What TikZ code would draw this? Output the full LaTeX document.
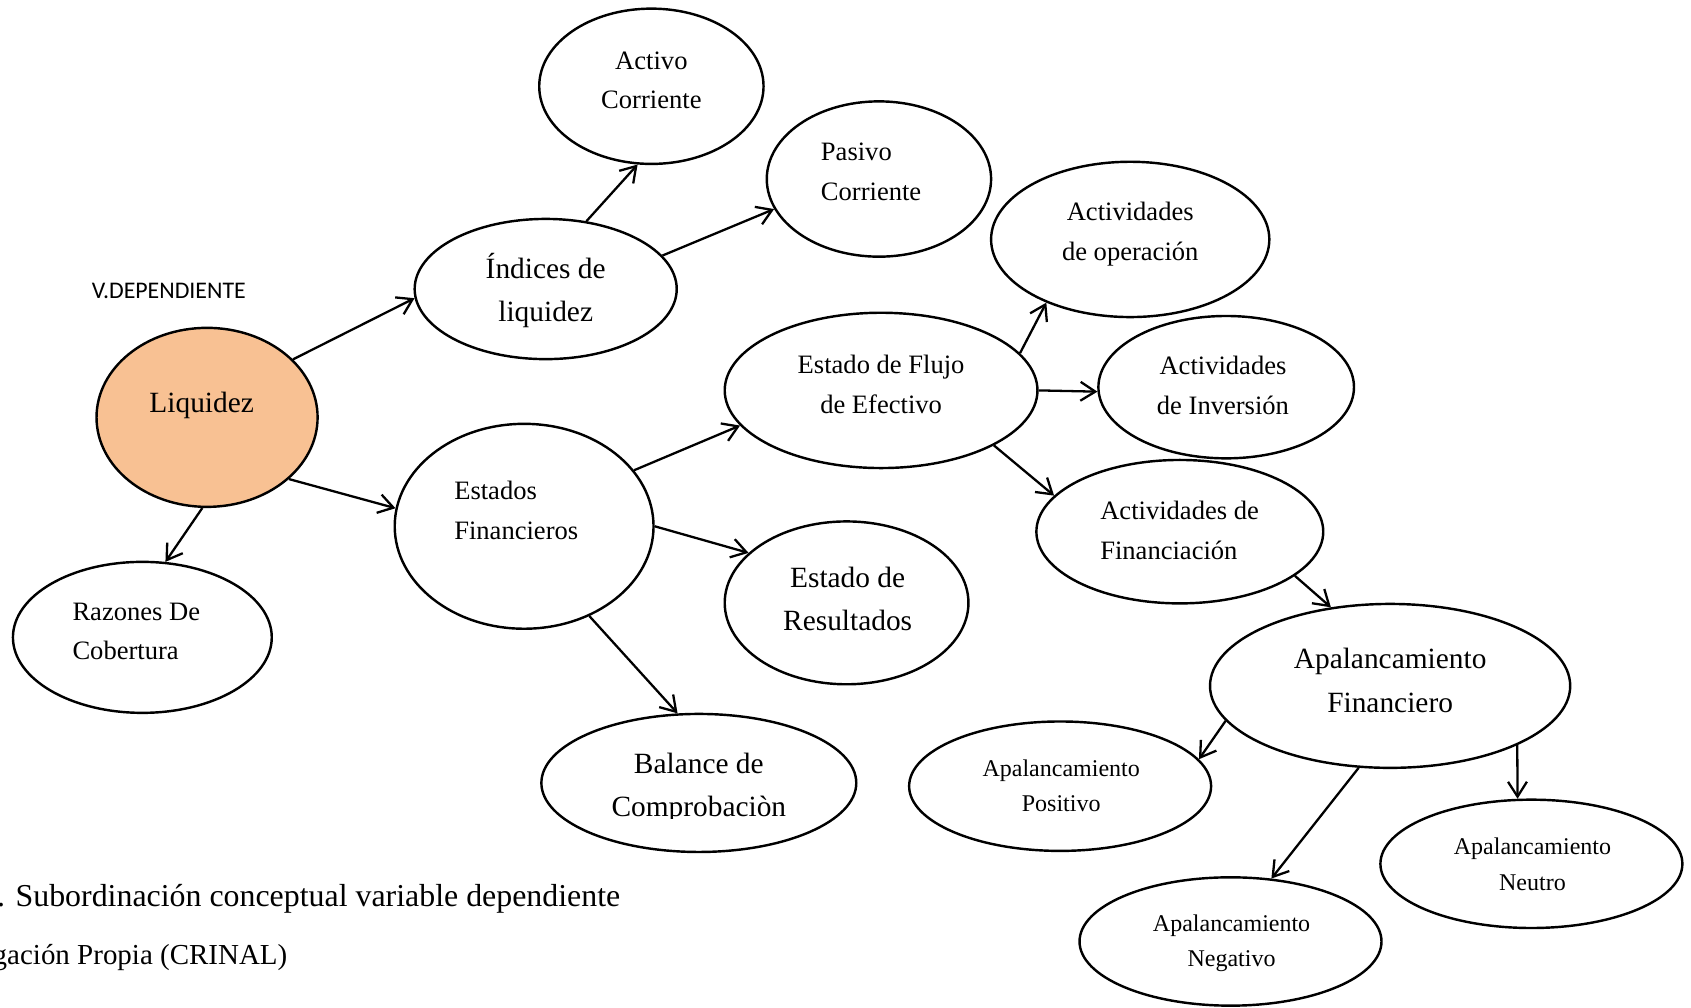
\documentclass[tikz,border=0pt]{standalone}
\usepackage{fontspec}
\setmainfont{Liberation Serif}
\newfontfamily\calib{Carlito}
\usetikzlibrary{shapes.geometric,arrows.meta}
\definecolor{peach}{RGB}{248,193,147}
\begin{document}
\begin{tikzpicture}[x=0.8pt,y=-0.8pt,
  bubble/.style={draw, ellipse, line width=1.8pt, inner sep=0pt, fill=white},
  sz/.style 2 args={minimum width=#1*0.8pt, minimum height=#2*0.8pt},
  link/.style={line width=1.7pt, -{Straight Barb[length=11pt,width=14pt,line width=1.7pt]}},
  tmed/.style={inner sep=0pt, align=center, font=\fontsize{19.7}{29.6}\selectfont},
  tbig/.style={inner sep=0pt, align=center, font=\fontsize{21.8}{32}\selectfont},
  tsml/.style={inner sep=0pt, align=center, font=\fontsize{17.8}{26.4}\selectfont},
  tleft/.style={align=left, anchor=west},
  capt/.style={inner sep=0pt, anchor=west}]
\useasboundingbox (0,0) rectangle (1568,934);
\clip (0,0) rectangle (1568,934);

% ellipses
\node[bubble, sz={208}{144}] (act) at (604,80) {};
\node[bubble, sz={208}{144}] (pas) at (815,166) {};
\node[bubble, sz={243}{130}] (ind) at (506,268) {};
\node[bubble, sz={205}{166}, fill=peach] (liq) at (192,387) {};
\node[bubble, sz={240}{140}] (raz) at (132,591) {};
\node[bubble, sz={240}{190}] (est) at (486,488) {};
\node[bubble, sz={290}{144}] (flu) at (817,362) {};
\node[bubble, sz={258}{144}] (op) at (1048,222) {};
\node[bubble, sz={237}{132}] (inv) at (1137,359) {};
\node[bubble, sz={266}{133}] (fin) at (1094,493) {};
\node[bubble, sz={226}{151}] (res) at (785,559) {};
\node[bubble, sz={292}{128}] (bal) at (648,726) {};
\node[bubble, sz={334}{152}] (apf) at (1289,636) {};
\node[bubble, sz={280}{120}] (pos) at (983,729) {};
\node[bubble, sz={280}{119}] (neu) at (1420,801) {};
\node[bubble, sz={280}{119}] (neg) at (1141,873) {};

% texts
\node[tmed] (actT) at (604,74.5) {Activo\\Corriente};
\node[tmed, tleft] (pasT) at (761,159) {Pasivo\\Corriente};
\node[tbig] (indT) at (506,269) {Índices de\\liquidez};
\node[tbig] (liqT) at (187,376) {Liquidez};
\node[inner sep=0pt, anchor=west, font=\calib\fontsize{17.7}{20}\selectfont] (vdep) at (85,270) {V.DEPENDIENTE};
\node[tmed, tleft] (razT) at (67,585.5) {Razones De\\Cobertura};
\node[tmed, tleft] (estT) at (421,473.5) {Estados\\Financieros};
\node[tmed] (fluT) at (817,356.5) {Estado de Flujo\\de Efectivo};
\node[tmed] (opT) at (1048,217) {Actividades\\de operación};
\node[tmed] (invT) at (1134,357) {Actividades\\de Inversión};
\node[tmed, tleft] (finT) at (1020,491.5) {Actividades de\\Financiación};
\node[tbig] (resT) at (786,555) {Estado de\\Resultados};
\begin{scope}
  % the lower line of this label is cut off by its text frame
  \clip (500,650) rectangle (800,758.5);
  \node[tbig] (balT) at (648,731) {Balance de\\Comprobaciòn};
\end{scope}
\node[tbig] (apfT) at (1289,631) {Apalancamiento\\Financiero};
\node[tsml] (posT) at (984,728.5) {Apalancamiento\\Positivo};
\node[tsml] (neuT) at (1421,801.5) {Apalancamiento\\Neutro};
\node[tsml] (negT) at (1142,874.5) {Apalancamiento\\Negativo};

% caption lines
\node[capt, font=\fontsize{23.65}{28}\selectfont] (cap1) at (-3,833) {. Subordinación conceptual variable dependiente};
\node[capt, font=\fontsize{21.5}{26}\selectfont] (cap2) at (-7,888) {gación Propia (CRINAL)};

% connectors
\draw[link] (liq.34.7) -- (ind.184);
\draw[link] (liq.323) -- (est.172);
\draw[link] (liq.267) -- (raz.73.3);
\draw[link] (ind.59.7) -- (act.260.5);
\draw[link] (ind.16) -- (pas.196);
\draw[link] (est.27.2) -- (flu.194);
\draw[link] (est.0) -- (res.153.7);
\draw[link] (est.306.8) -- (bal.107.1);
\draw[link] (flu.15.8) -- (op.217.3);
\draw[link] (flu.-0.4) -- (inv.182);
\draw[link] (flu.334.3) -- (fin.164.1);
\draw[link] (fin.339.4) -- (apf.127.1);
\draw[link] (apf.192.3) -- (pos.11.7);
\draw[link] (apf.249.8) -- (neg.57.9);
\draw[link] (apf.335.5) -- (neu.102.4);
\end{tikzpicture}
\end{document}
